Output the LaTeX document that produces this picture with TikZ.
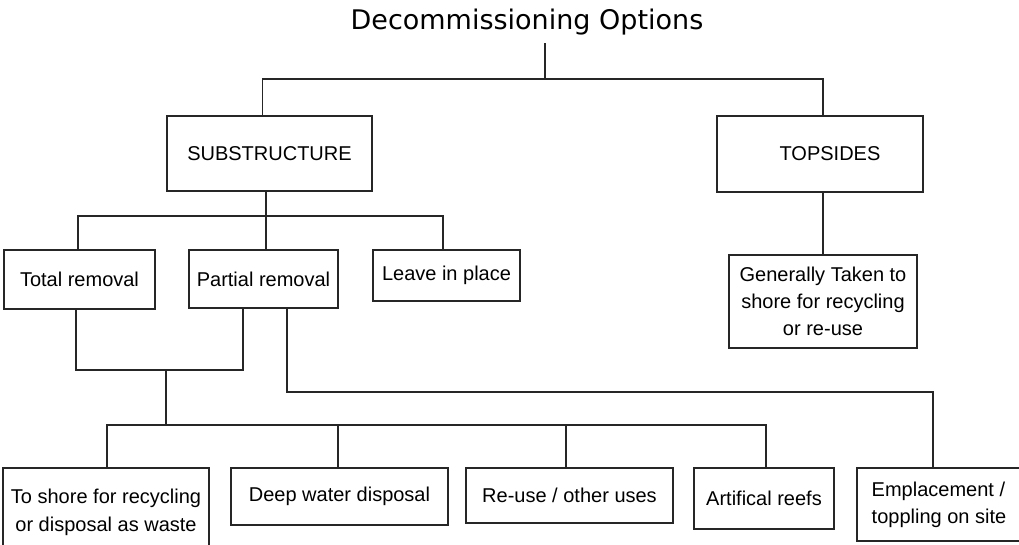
\documentclass[tikz,border=0pt]{standalone}
\usepackage{fontspec}
\setmainfont{Liberation Sans}
\newfontfamily\titlefont{DejaVu Sans}
\usetikzlibrary{positioning}
\colorlet{framegray}{black!85}

\begin{document}
\begin{tikzpicture}[x=1pt, y=-1pt,
    optbox/.style={draw=framegray, line width=1.1pt, inner sep=0pt, align=center,
      font=\fontsize{20}{27}\selectfont},
    link/.style={draw=framegray, line width=1.1pt}]
    \useasboundingbox (0,0) rectangle (1019,544);
    \node[font=\titlefont\fontsize{27}{32}\selectfont, anchor=base] (title) at (527,29) {Decommissioning Options};

    % first level
    \node[optbox, minimum width=205pt, minimum height=75pt] (sub) at (269.5,153.5) {SUBSTRUCTURE};
    \node[optbox, minimum width=206pt, minimum height=76pt] (top) at (820,154) {\hspace*{20pt}TOPSIDES};
    \node[optbox, minimum width=188pt, minimum height=93pt] (gen) at (823,301.5)
      {Generally Taken to\\shore for recycling\\or re-use};

    % substructure options
    \node[optbox, minimum width=151pt, minimum height=59pt] (total) at (79.5,279.5) {Total removal};
    \node[optbox, minimum width=149pt, minimum height=58pt] (partial) at (263.5,279) {Partial removal};
    \node[optbox, minimum width=147pt, minimum height=51pt] (leave) at (446.5,275.5) {Leave in place};

    % disposal routes
    \node[optbox, minimum width=206pt, minimum height=88pt, font=\fontsize{20}{28}\selectfont] (shore) at (106,512)
      {To shore for recycling\\or disposal as waste};
    \node[optbox, minimum width=217pt, minimum height=57pt] (deep) at (339.5,496.5) {Deep water disposal};
    \node[optbox, minimum width=207pt, minimum height=55pt] (reuse) at (569.5,495.5) {\raisebox{-6pt}{Re-use / other uses}};
    \node[optbox, minimum width=140pt, minimum height=61pt] (reefs) at (764,498.5) {\raisebox{-5pt}{Artifical reefs}};
    \node[optbox, minimum width=164pt, minimum height=73pt, align=left] (empl) at (939,504.5)
      {Emplacement /\\toppling on site};

    % junctions
    \coordinate (rootjoin) at (545,79);
    \coordinate (subbus) at (266,216);
    \coordinate (rembus) at (166,370);
    \coordinate (wastebus) at (166,425);
    \coordinate (sitebus) at (933,392);

    \draw[link] ([yshift=-5pt]title.south -| rootjoin) -- (rootjoin);
    \draw[link] ([xshift=-7pt]sub.north) |- (rootjoin) -| ([xshift=3pt]top.north);
    \draw[link] ([xshift=3pt]top.south) -- (gen.north);
    \draw[link] (sub.south -| subbus) -- (partial.north -| subbus);
    \draw[link] ([xshift=-1.5pt]total.north) |- (subbus) -| ([xshift=-3.5pt]leave.north);
    \draw[link] ([xshift=-3.5pt]total.south) |- (rembus) -| ([xshift=-20.5pt]partial.south);
    \draw[link] (rembus) -- (wastebus);
    \draw[link] ([xshift=1pt]shore.north) |- (wastebus) -| ([xshift=2pt]reefs.north);
    \draw[link] ([xshift=-1.5pt]deep.north) -- ([xshift=-1.5pt]deep.north |- wastebus);
    \draw[link] ([xshift=-3.5pt]reuse.north) -- ([xshift=-3.5pt]reuse.north |- wastebus);
    \draw[link] ([xshift=23.5pt]partial.south) |- (sitebus) -- (sitebus |- empl.north);
\end{tikzpicture}
\end{document}
